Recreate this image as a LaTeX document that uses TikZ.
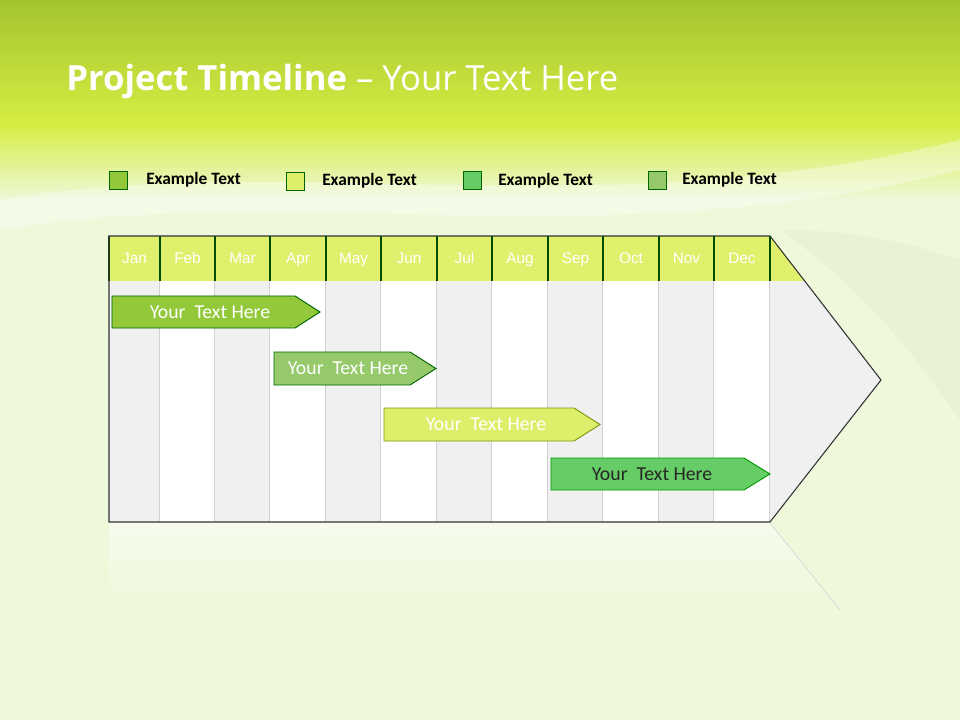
\documentclass[tikz,border=0pt]{standalone}
\usepackage{fontspec}
\setmainfont{Carlito}
\newfontfamily\titlefont{Open Sans}
\newfontfamily\arialfont{Liberation Sans}
\definecolor{topg}{HTML}{A4C42E}
\definecolor{midg}{HTML}{D6EE44}
\definecolor{paleg}{HTML}{EEF8DA}
\definecolor{hdr}{HTML}{E0F06C}
\definecolor{cgray}{HTML}{F0F0F0}
\definecolor{cA}{HTML}{92C83A}
\definecolor{cB}{HTML}{DDEF6A}
\definecolor{cC}{HTML}{66CC66}
\definecolor{cD}{HTML}{95C96A}
\tikzset{
  legbox/.style={draw=black!60!green, minimum size=13.5pt, inner sep=0pt, line width=0.6pt},
  legtxt/.style={font=\bfseries\fontsize{13}{15}\selectfont, anchor=west, inner sep=0pt},
  month/.style={font=\arialfont\fontsize{11.5}{13}\selectfont, text=white, anchor=base},
  bartxt/.style={font=\fontsize{14.8}{17}\selectfont, inner sep=0pt},
}
\begin{document}
\begin{tikzpicture}[x=0.75pt,y=-0.75pt]
\useasboundingbox (0,0) rectangle (960,720);
% background
\fill[paleg] (0,0) rectangle (960,720);
\shade[top color=topg, bottom color=midg] (0,0) rectangle (960,125);
\shade[top color=midg, bottom color=paleg] (0,125) rectangle (960,200);
\fill[white,opacity=0.35] (0,200) .. controls (300,150) and (600,230) .. (960,140) -- (960,170) .. controls (600,260) and (300,180) .. (0,230) -- cycle;
\fill[green!30!olive!20,opacity=0.4] (780,230) .. controls (880,300) and (930,380) .. (960,420) -- (960,260) .. controls (900,240) and (850,230) .. (780,230) -- cycle;
% title
\node[anchor=west, text=white, font=\titlefont\fontsize{26}{30}\selectfont, inner sep=0pt] (title) at (66,81) {\textbf{Project Timeline} – Your Text Here};
% legend
\node[legbox, fill=cA] (l1) at (118.5,180) {};
\node[legtxt] (t1) at (146,180) {Example Text};
\node[legbox, fill=cB] (l2) at (295,181) {};
\node[legtxt] (t2) at (322,181) {Example Text};
\node[legbox, fill=cC] (l3) at (472,180) {};
\node[legtxt] (t3) at (498,181) {Example Text};
\node[legbox, fill=cD] (l4) at (657,180) {};
\node[legtxt] (t4) at (682,180) {Example Text};
% reflection
\shade[top color=white, bottom color=paleg, opacity=0.5] (109,523) -- (770,523) -- (840,610) -- (109,610) -- cycle;
\draw[black!15, line width=0.6pt] (770,523) -- (840,610);
% body columns
\foreach \a/\b [count=\i] in {109/160,160/215,215/270,270/326,326/381,381/437,437/492,492/548,548/603,603/659,659/714,714/770}{
  \pgfmathparse{mod(\i,2)==1?1:0}
  \ifnum\pgfmathresult=1 \fill[cgray] (\a,281) rectangle (\b,522); \else \fill[white] (\a,281) rectangle (\b,522); \fi
  \fill[hdr] (\a,236) rectangle (\b,281);
  \draw[black!18, line width=1pt] (\b,281) -- (\b,522);
  \draw[black!70!green, line width=0.8pt] (\a,236) -- (\a,281);
}
\fill[cgray] (770,281) -- (804.7,281) -- (881,380) -- (770,522) -- cycle;
\fill[hdr] (770,236) -- (804.7,281) -- (770,281) -- cycle;
\draw[black!80, line width=0.8pt] (109,236) -- (770,236) -- (881,380) -- (770,522) -- (109,522) -- cycle;
\draw[black!70!green, line width=0.8pt] (770,236) -- (770,281);
\foreach \m/\a/\b in {Jan/109/160,Feb/160/215,Mar/215/270,Apr/270/326,May/326/381,Jun/381/437,Jul/437/492,Aug/492/548,Sep/548/603,Oct/603/659,Nov/659/714,Dec/714/770}{
  \node[month] (m\m) at ({(\a+\b)/2},264) {\m};
}
% bars
\fill[cA] (112,296) -- (295,296) -- (320,312) -- (295,328) -- (112,328) -- cycle;
\draw[black!50!green!80!black, line width=0.7pt] (112,296) -- (295,296) -- (320,312) -- (295,328) -- (112,328) -- cycle;
\node[bartxt, text=white] (b1) at (210,312) {Your\ \ Text Here};
\fill[cD] (274,352) -- (410,352) -- (436,368.5) -- (410,385) -- (274,385) -- cycle;
\draw[black!50!green!80!black, line width=0.7pt] (274,352) -- (410,352) -- (436,368.5) -- (410,385) -- (274,385) -- cycle;
\node[bartxt, text=white] (b2) at (348,368.5) {Your\ \ Text Here};
\fill[cB] (384,408) -- (574,408) -- (600,424.5) -- (574,441) -- (384,441) -- cycle;
\draw[olive!70!green, line width=0.7pt] (384,408) -- (574,408) -- (600,424.5) -- (574,441) -- (384,441) -- cycle;
\node[bartxt, text=white] (b3) at (486,424.5) {Your\ \ Text Here};
\fill[cC] (551,458) -- (744,458) -- (770,474) -- (744,490) -- (551,490) -- cycle;
\draw[black!40!green, line width=0.7pt] (551,458) -- (744,458) -- (770,474) -- (744,490) -- (551,490) -- cycle;
\node[bartxt, text=black!85] (b4) at (652,474) {Your\ \ Text Here};
\end{tikzpicture}
\end{document}
